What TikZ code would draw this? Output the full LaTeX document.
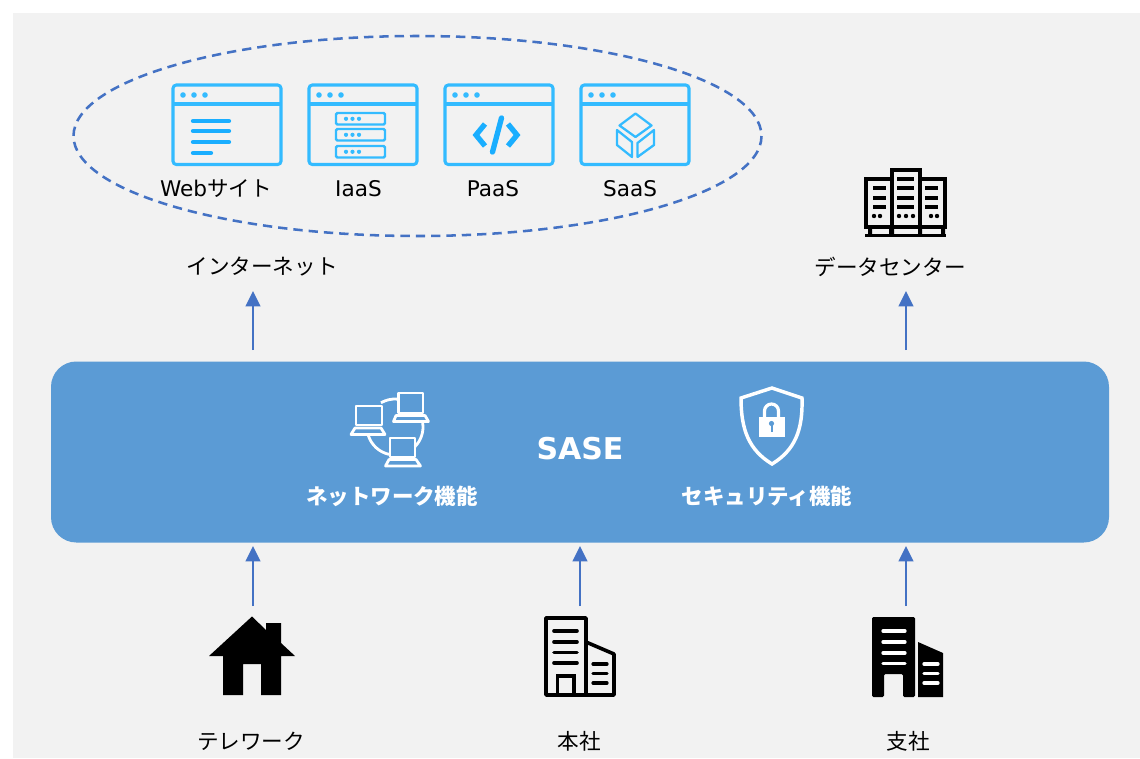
\documentclass[tikz,border=0pt]{standalone}
\usepackage{fontspec}
\setmainfont{DejaVu Sans}
\newfontfamily\jp{Noto Sans CJK JP}
\usetikzlibrary{arrows.meta}
\definecolor{bggrey}{HTML}{F2F2F2}
\definecolor{saseblue}{HTML}{5B9BD5}
\definecolor{linkblue}{HTML}{4472C4}
\definecolor{iconblue}{HTML}{33BBFF}
\definecolor{iconcore}{HTML}{1AAEFF}
\tikzset{
  x=0.75pt,y=-0.75pt,
  lbl/.style={inner sep=0,font=\fontsize{16.2}{19}\selectfont\jp,text=black,anchor=center},
  lat/.style={inner sep=0,font=\fontsize{16.2}{19}\selectfont,text=black,anchor=center},
  wlbl/.style={inner sep=0,font=\fontsize{16.1}{19}\selectfont\bfseries\jp,text=white,anchor=center},
  flow/.style={draw=linkblue,line width=1.6pt,-{Triangle[length=11.5pt,width=11pt]}},
  winicon/.style={draw=iconblue,line width=2.3pt,rounded corners=2.5pt},
  iconline/.style={draw=iconblue,line width=2.3pt},
  iconfine/.style={draw=iconblue,line width=1.7pt},
  wht/.style={draw=white,line width=2.1pt,line join=round},
  blk/.style={draw=black,line width=2.6pt},
}
\newcommand{\winframe}[1]{%
  \begin{scope}[xshift=#1*0.75pt]
  \draw[winicon] (173,85) rectangle (281,164.5);
  \draw[iconline] (173,104) -- (281,104);
  \fill[iconblue] (183,95) circle (2.8) (194,95) circle (2.8) (205,95) circle (2.8);
  \end{scope}}
\begin{document}
\begin{tikzpicture}
\useasboundingbox (0,0) rectangle (1140,758);
\fill[bggrey] (13,13) rectangle (1140,758);
% internet ellipse
\draw[linkblue,line width=1.9pt,dash pattern=on 7pt off 4.5pt] (417.5,136) ellipse [x radius=344,y radius=100];
% window icons
\winframe{0}\winframe{136}\winframe{272}\winframe{408}
% web lines
\draw[iconcore,line width=3.2pt,line cap=round] (193,121)--(229,121) (193,131)--(229,131) (193,142)--(229,142) (193,153)--(211,153);
% iaas
\foreach \y in {113,129,146}{
  \draw[iconline,line width=1.8pt,rounded corners=1pt] (336,\y) rectangle (385,\y+11.5);
  \fill[iconblue] (346,\y+5.8) circle (2.1) (352.5,\y+5.8) circle (2.1) (359,\y+5.8) circle (2.1);
}
% paas
\draw[iconcore,line width=4pt,line join=miter] (485,124) -- (476,135) -- (485,146);
\draw[iconcore,line width=4pt,line join=miter] (508,124) -- (517,135) -- (508,146);
\draw[iconcore,line width=4pt,line cap=round] (501.5,118) -- (492.5,152);
% saas
\draw[iconfine,line join=round] (635.5,113.5) -- (651.5,125.5) -- (635.5,137) -- (619.5,125.5) -- cycle;
\draw[iconfine,line join=round] (617,130) -- (632,142) -- (632,157) -- (617,145) -- cycle;
\draw[iconfine,line join=round] (654,130) -- (637.5,143) -- (637.5,157) -- (654,145) -- cycle;
% labels top
\node[lat] (web) at (216,189) {Web{\jp サイト}};
\node[lat] (iaas) at (358.5,189) {IaaS};
\node[lat] (paas) at (493,189) {PaaS};
\node[lat] (saas) at (630,189) {SaaS};
\node[lbl] (inet) at (262,267) {インターネット};
\node[lbl] (dc) at (890,267) {データセンター};
% datacenter icon
\draw[blk,fill=bggrey,line join=miter] (866,179) rectangle (892,227);
\draw[blk,fill=bggrey] (920,179) rectangle (945,227);
\draw[blk,fill=bggrey] (892,170) rectangle (920,227);
\draw[black,line width=2.6pt] (873,188)--(886,188) (873,198)--(886,198) (873,207)--(886,207)
  (897,179)--(914,179) (897,188)--(914,188) (897,198)--(914,198) (897,207)--(914,207)
  (925,188)--(938,188) (925,198)--(938,198) (925,207)--(938,207);
\fill[black] (874,216) circle (2.2) (880,216) circle (2.2)
  (899,216) circle (2.2) (906,216) circle (2.2) (913,216) circle (2.2)
  (931,216) circle (2.2) (937,216) circle (2.2);
\draw[black,line width=2.8pt] (865,235.5) -- (946,235.5);
\fill[black] (868,227) rectangle (872,235) (889,227) rectangle (894,235) (918,227) rectangle (922,235) (941,227) rectangle (945,235);
% SASE box
\node[draw=none,fill=saseblue,rounded corners=19pt,minimum width=1058*0.75pt,minimum height=181*0.75pt,inner sep=0] (sase) at (580,452) {};
\node[inner sep=0,font=\fontsize{22.5}{26}\selectfont\bfseries,text=white] (sasetxt) at (580,449) {SASE};
\node[wlbl] (netfn) at (392,496) {ネットワーク機能};
\node[wlbl] (secfn) at (767,496) {セキュリティ機能};
% network icon
\draw[wht] (395,427) ++(-120:28) arc[start angle=-120,end angle=-85,radius=28];
\draw[wht] (395,427) ++(-8:28) arc[start angle=-8,end angle=45,radius=28];
\draw[wht] (395,427) ++(163:28) arc[start angle=163,end angle=102,radius=28];
\draw[wht] (356,406) rectangle (382,425);
\draw[wht] (355,428) -- (381,428) -- (385,434.5) -- (351,434.5) -- cycle;
\draw[wht] (398.5,393) rectangle (423,413);
\draw[wht] (396,415.5) -- (425,415.5) -- (428.5,421.5) -- (393.5,421.5) -- cycle;
\draw[wht] (390,438) rectangle (415,457);
\draw[wht] (389,459.5) -- (416,459.5) -- (420.5,466) -- (385.5,466) -- cycle;
% shield icon
\draw[white,line width=2.6pt,line join=miter] (772,388) -- (802,398) .. controls (803,430) and (795,450) .. (772,464) .. controls (749,450) and (741,430) .. (741,398) -- cycle;
\draw[white,line width=2.4pt] (764.5,418) -- (764.5,411) arc[start angle=180,end angle=360,radius=7] -- (778.5,418);
\fill[white] (759,417) rectangle (784.5,437);
\fill[saseblue] (771.5,423.5) circle (2.6);
\fill[saseblue] (770.5,424) rectangle (772.5,431.5);
% arrows
\coordinate (a1) at (253,350); \coordinate (a1e) at (253,291);
\coordinate (a2) at (906,350); \coordinate (a2e) at (906,291);
\coordinate (b1) at (253,606); \coordinate (b1e) at (253,546);
\coordinate (b2) at (580,606); \coordinate (b2e) at (580,546);
\coordinate (b3) at (906,606); \coordinate (b3e) at (906,546);
\draw[flow] (a1) -- (a1e);
\draw[flow] (a2) -- (a2e);
\draw[flow] (b1) -- (b1e);
\draw[flow] (b2) -- (b2e);
\draw[flow] (b3) -- (b3e);
% house
\fill[black] (252,616.5) -- (266,630) -- (266,623) -- (281,623) -- (281,643) -- (295,656) -- (281,656) -- (281,695) -- (261,695) -- (261,664) -- (243,664) -- (243,695) -- (223,695) -- (223,656) -- (209,656) -- cycle;
% head office
\draw[black,line width=2.7pt,line join=round] (546,618) rectangle (586,695);
\draw[black,line width=2.7pt,line join=round] (586,642) -- (614,654) -- (614,695) -- (546,695);
\draw[black,line width=2.7pt] (557.5,676) rectangle (574,695);
\draw[black,line width=2.7pt,line cap=round] (554,631)--(577,631) (554,642)--(577,642) (554,652.5)--(577,652.5) (554,663)--(577,663);
\draw[black,line width=2.4pt,line cap=round] (593,664)--(607,664) (593,673.5)--(607,673.5) (593,683)--(607,683);
% branch
\fill[black,rounded corners=1pt] (872,617) -- (915,617) -- (915,697) -- (903,697) -- (903,674) -- (884,674) -- (884,697) -- (872,697) -- cycle;
\fill[black] (918,642) -- (943,653) -- (943,697) -- (918,697) -- cycle;
\draw[white,line width=2.5pt,line cap=round] (883,631)--(905,631) (883,642)--(905,642) (883,653)--(905,653) (883,663.5)--(905,663.5) (924,664)--(938,664) (924,673.5)--(938,673.5) (924,683)--(938,683);
% bottom labels
\node[lbl] (tele) at (251,741.5) {テレワーク};
\node[lbl] (hq) at (579,741.5) {本社};
\node[lbl] (br) at (908,741.5) {支社};
\end{tikzpicture}
\end{document}
